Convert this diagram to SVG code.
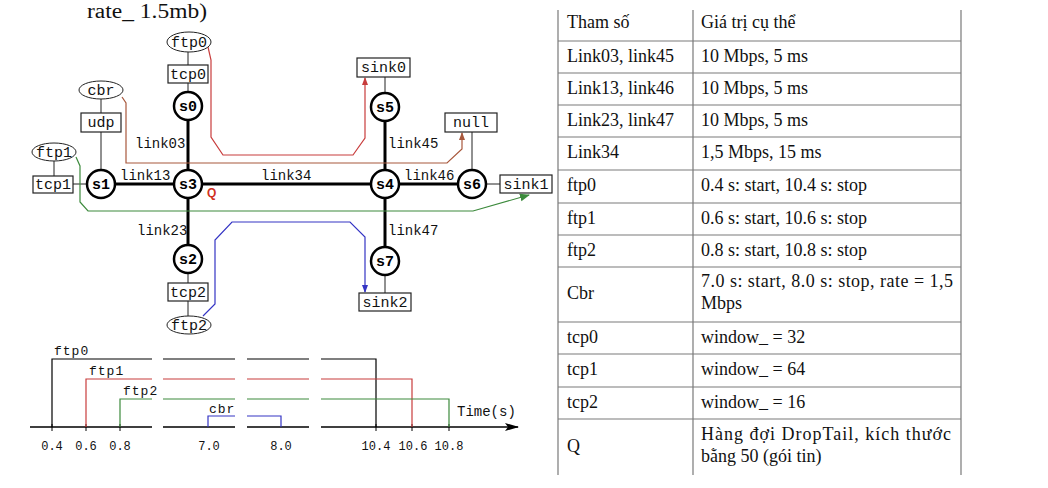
<svg xmlns="http://www.w3.org/2000/svg" width="1048" height="488" viewBox="0 0 1048 488">
<style>
.bg{fill:#fff}
.nd{fill:#fff;stroke:#000;stroke-width:2.5}
.bx{fill:#fff;stroke:#222;stroke-width:1.2}
.el{fill:#fff;stroke:#222;stroke-width:1}
.thin{stroke:#222;stroke-width:1;fill:none}
.thick{stroke:#000;stroke-width:3;fill:none}
.lbl{font-family:"Liberation Mono",monospace;font-size:15px;fill:#111;text-anchor:middle}
.nl{font-family:"Liberation Mono",monospace;font-size:15px;font-weight:bold;fill:#000;text-anchor:middle}
.lk{font-family:"Liberation Mono",monospace;font-size:14px;fill:#111}
.tl{font-family:"Liberation Mono",monospace;font-size:13px;fill:#111;letter-spacing:1px}
.tn{font-family:"Liberation Mono",monospace;font-size:12px;fill:#111;text-anchor:middle}
.tb{font-family:"Liberation Serif",serif;font-size:18px;fill:#111}
.grid{stroke:#7a7a7a;stroke-width:1.2;fill:none}
.red{stroke:#c83c3c;stroke-width:1.2;fill:none}
.brn{stroke:#a8583c;stroke-width:1.2;fill:none}
.grn{stroke:#3c8a3c;stroke-width:1.2;fill:none}
.blu{stroke:#3434c4;stroke-width:1.2;fill:none}
</style>
<defs>
<marker id="aR" markerWidth="8" markerHeight="8" refX="7" refY="4" orient="auto" markerUnits="userSpaceOnUse"><path d="M0,1 L8,4 L0,7 z" fill="#c83c3c"/></marker>
<marker id="aB" markerWidth="8" markerHeight="8" refX="7" refY="4" orient="auto" markerUnits="userSpaceOnUse"><path d="M0,1 L8,4 L0,7 z" fill="#a8583c"/></marker>
<marker id="aG" markerWidth="10" markerHeight="10" refX="9" refY="5" orient="auto" markerUnits="userSpaceOnUse"><path d="M0,1 L10,5 L0,9 z" fill="#3c8a3c"/></marker>
<marker id="aU" markerWidth="8" markerHeight="8" refX="7" refY="4" orient="auto" markerUnits="userSpaceOnUse"><path d="M0,1 L8,4 L0,7 z" fill="#3434c4"/></marker>
<marker id="aK" markerWidth="14" markerHeight="10" refX="13" refY="5" orient="auto" markerUnits="userSpaceOnUse"><path d="M0,1 L14,5 L0,9 L3,5 z" fill="#000"/></marker>
</defs>
<rect class="bg" x="0" y="0" width="1048" height="488"/>

<text x="87" y="18" font-family="Liberation Serif, serif" font-size="20" fill="#111" textLength="120" lengthAdjust="spacingAndGlyphs">rate_ 1.5mb)</text>

<g id="connectors">
<line class="thick" x1="188" y1="120" x2="188" y2="170"/>
<line class="thick" x1="115" y1="184" x2="174" y2="184"/>
<line class="thick" x1="202" y1="184" x2="371" y2="184"/>
<line class="thick" x1="188" y1="198" x2="188" y2="245"/>
<line class="thick" x1="385" y1="121" x2="385" y2="170"/>
<line class="thick" x1="399" y1="184" x2="458" y2="184"/>
<line class="thick" x1="385" y1="198" x2="385" y2="247"/>
<line class="thin" x1="188" y1="52" x2="188" y2="65"/>
<line class="thin" x1="188" y1="83" x2="188" y2="92"/>
<line class="thin" x1="101" y1="99" x2="101" y2="113"/>
<line class="thin" x1="101" y1="132" x2="101" y2="170"/>
<line class="thin" x1="54" y1="161" x2="54" y2="176"/>
<line class="thin" x1="73" y1="184" x2="87" y2="184"/>
<line class="thin" x1="385" y1="77" x2="385" y2="93"/>
<line class="thin" x1="472" y1="132" x2="472" y2="170"/>
<line class="thin" x1="486" y1="184" x2="500" y2="184"/>
<line class="thin" x1="188" y1="273" x2="188" y2="283"/>
<line class="thin" x1="188" y1="301" x2="188" y2="316"/>
<line class="thin" x1="385" y1="275" x2="385" y2="293"/>
<path class="red" d="M208,47 L211,60 L211,137 L223,155 L353,155 L365,138 L365,78" marker-end="url(#aR)"/>
<path class="brn" d="M122,97 L126,103 L126,163 L447,163 L462,149 L462,133" marker-end="url(#aB)"/>
<path class="grn" d="M76,157 L80,166 L80,202 L88,211 L473,211 L529,195" marker-end="url(#aG)"/>
<path class="blu" d="M203,316 L215,304 L215,240 L232,222 L350,222 L365,237 L365,292" marker-end="url(#aU)"/>
</g>

<g id="labels">
<text class="lk" x="135" y="148">link03</text>
<text class="lk" x="120" y="180">link13</text>
<text class="lk" x="261" y="180">link34</text>
<text class="lk" x="404" y="180">link46</text>
<text class="lk" x="388" y="148">link45</text>
<text class="lk" x="137" y="235">link23</text>
<text class="lk" x="388" y="235">link47</text>
<text x="207" y="197" font-family="Liberation Sans, sans-serif" font-size="12" font-weight="bold" fill="#d03020">Q</text>
</g>

<g id="ftp0"><ellipse class="el" cx="189" cy="42" rx="22" ry="10"/><text class="lbl" x="189" y="47">ftp0</text></g>
<g id="tcp0"><rect class="bx" x="168" y="65" width="40" height="18"/><text class="lbl" x="188" y="78.5">tcp0</text></g>
<g id="s0"><circle class="nd" cx="188" cy="106" r="14"/><text class="nl" x="188" y="111">s0</text></g>
<g id="cbr"><ellipse class="el" cx="101" cy="90" rx="22" ry="9"/><text class="lbl" x="101" y="95">cbr</text></g>
<g id="udp"><rect class="bx" x="81" y="113" width="40" height="19"/><text class="lbl" x="101" y="127">udp</text></g>
<g id="ftp1"><ellipse class="el" cx="54" cy="152" rx="22" ry="9"/><text class="lbl" x="54" y="157">ftp1</text></g>
<g id="tcp1"><rect class="bx" x="33" y="176" width="40" height="17"/><text class="lbl" x="53" y="189">tcp1</text></g>
<g id="s1"><circle class="nd" cx="101" cy="184" r="14"/><text class="nl" x="101" y="189">s1</text></g>
<g id="s3"><circle class="nd" cx="188" cy="184" r="14"/><text class="nl" x="188" y="189">s3</text></g>
<g id="s4"><circle class="nd" cx="385" cy="184" r="14"/><text class="nl" x="385" y="189">s4</text></g>
<g id="s6"><circle class="nd" cx="472" cy="184" r="14"/><text class="nl" x="472" y="189">s6</text></g>
<g id="sink1"><rect class="bx" x="500" y="175" width="52" height="18"/><text class="lbl" x="526" y="189">sink1</text></g>
<g id="null"><rect class="bx" x="445" y="113" width="52" height="19"/><text class="lbl" x="471" y="127">null</text></g>
<g id="s5"><circle class="nd" cx="385" cy="107" r="14"/><text class="nl" x="385" y="112">s5</text></g>
<g id="sink0"><rect class="bx" x="357" y="58" width="53" height="19"/><text class="lbl" x="383.5" y="72">sink0</text></g>
<g id="s2"><circle class="nd" cx="188" cy="259" r="14"/><text class="nl" x="188" y="264">s2</text></g>
<g id="tcp2"><rect class="bx" x="168" y="283" width="40" height="18"/><text class="lbl" x="188" y="297">tcp2</text></g>
<g id="ftp2"><ellipse class="el" cx="189" cy="325" rx="22" ry="9"/><text class="lbl" x="189" y="330">ftp2</text></g>
<g id="s7"><circle class="nd" cx="385" cy="261" r="14"/><text class="nl" x="385" y="266">s7</text></g>
<g id="sink2"><rect class="bx" x="359" y="293" width="52" height="18"/><text class="lbl" x="385" y="307">sink2</text></g>

<g id="timeline">
<path d="M30,427 H152 M163,427 H235 M247,427 H309" stroke="#000" stroke-width="1.3" fill="none"/>
<path d="M321,427 H518" stroke="#000" stroke-width="1.3" fill="none" marker-end="url(#aK)"/>
<path d="M52,424 V431 M86,424 V431 M120,424 V431 M376,424 V431 M412,424 V431 M449,424 V431" stroke="#000" stroke-width="1"/>
<path d="M52,427 V359 H152 M163,359 H235 M247,359 H309 M321,359 H376 V427" stroke="#000" stroke-width="1.2" fill="none"/>
<path d="M86,427 V379 H152 M163,379 H235 M247,379 H309 M321,379 H412 V427" stroke="#c83c3c" stroke-width="1.2" fill="none"/>
<path d="M120,427 V399 H152 M163,399 H235 M247,399 H309 M321,399 H449 V427" stroke="#3c8a3c" stroke-width="1.2" fill="none"/>
<path d="M208,427 V416 H235 M247,416 H281 V427" stroke="#3434c4" stroke-width="1.2" fill="none"/>
<text class="tl" x="54" y="355">ftp0</text>
<text class="tl" x="89" y="375">ftp1</text>
<text class="tl" x="123" y="395">ftp2</text>
<text class="tl" x="209" y="413">cbr</text>
<text class="lk" x="457" y="416">Time(s)</text>
<text class="tn" x="52" y="450">0.4</text>
<text class="tn" x="86" y="450">0.6</text>
<text class="tn" x="120" y="450">0.8</text>
<text class="tn" x="209" y="450">7.0</text>
<text class="tn" x="281" y="450">8.0</text>
<text class="tn" x="376" y="450">10.4</text>
<text class="tn" x="413" y="450">10.6</text>
<text class="tn" x="449" y="450">10.8</text>
</g>

<g id="table">
<path class="grid" d="M558,10 V475 M693,10 V475 M961,10 V475"/>
<path class="grid" d="M558,41 H961 M558,73 H961 M558,105 H961 M558,137 H961 M558,170 H961 M558,203 H961 M558,235 H961 M558,267 H961 M558,322 H961 M558,354 H961 M558,387 H961 M558,419 H961"/>
<text class="tb" x="567" y="28">Tham số</text>
<text class="tb" x="701" y="28">Giá trị cụ thể</text>
<text class="tb" x="567" y="62">Link03, link45</text>
<text class="tb" x="701" y="62">10 Mbps, 5 ms</text>
<text class="tb" x="567" y="94">Link13, link46</text>
<text class="tb" x="701" y="94">10 Mbps, 5 ms</text>
<text class="tb" x="567" y="126">Link23, link47</text>
<text class="tb" x="701" y="126">10 Mbps, 5 ms</text>
<text class="tb" x="567" y="158">Link34</text>
<text class="tb" x="701" y="158">1,5 Mbps, 15 ms</text>
<text class="tb" x="567" y="191">ftp0</text>
<text class="tb" x="701" y="191">0.4 s: start, 10.4 s: stop</text>
<text class="tb" x="567" y="224">ftp1</text>
<text class="tb" x="701" y="224">0.6 s: start, 10.6 s: stop</text>
<text class="tb" x="567" y="256">ftp2</text>
<text class="tb" x="701" y="256">0.8 s: start, 10.8 s: stop</text>
<text class="tb" x="567" y="299">Cbr</text>
<text class="tb" x="701" y="287" textLength="252" lengthAdjust="spacing">7.0 s: start, 8.0 s: stop, rate = 1,5</text>
<text class="tb" x="701" y="309">Mbps</text>
<text class="tb" x="567" y="343">tcp0</text>
<text class="tb" x="701" y="343">window_ = 32</text>
<text class="tb" x="567" y="375">tcp1</text>
<text class="tb" x="701" y="375">window_ = 64</text>
<text class="tb" x="567" y="408">tcp2</text>
<text class="tb" x="701" y="408">window_ = 16</text>
<text class="tb" x="567" y="452">Q</text>
<text class="tb" x="701" y="440" textLength="250" lengthAdjust="spacing">Hàng đợi DropTail, kích thước</text>
<text class="tb" x="701" y="462">bằng 50 (gói tin)</text>
</g>
</svg>
